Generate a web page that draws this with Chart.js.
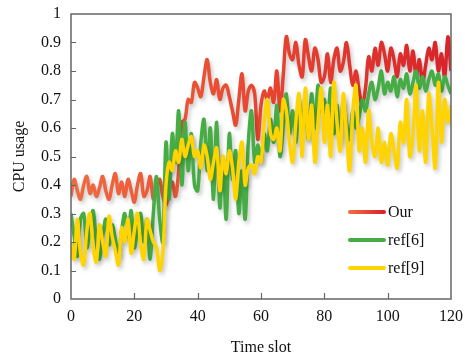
<!DOCTYPE html>
<html>
<head>
<meta charset="utf-8">
<script src="https://cdn.jsdelivr.net/npm/chart.js@4"></script>
<style>
html,body{margin:0;padding:0;background:#fff;}
#wrap{width:465px;height:361px;position:relative;}
</style>
</head>
<body>
<div id="wrap"><canvas id="c" width="465" height="361"></canvas></div>
<script>
const seriesNames = ["Our", "ref[6]", "ref[9]"];
const xTicks = [0, 20, 40, 60, 80, 100, 120];
const yTicks = [0, 0.1, 0.2, 0.3, 0.4, 0.5, 0.6, 0.7, 0.8, 0.9, 1];

const ourValues = [
0.36,0.42,0.38,0.35,0.40,0.43,0.37,0.40,0.36,0.39,
0.43,0.38,0.35,0.40,0.44,0.37,0.41,0.36,0.42,0.38,
0.34,0.40,0.44,0.36,0.38,0.43,0.35,0.39,0.42,0.36,
0.33,0.38,0.41,0.36,0.45,0.62,0.63,0.70,0.69,0.76,
0.74,0.71,0.78,0.84,0.76,0.72,0.77,0.70,0.74,0.75,
0.71,0.66,0.61,0.70,0.79,0.66,0.73,0.75,0.72,0.56,
0.68,0.73,0.70,0.74,0.69,0.80,0.66,0.78,0.92,0.86,
0.84,0.90,0.82,0.78,0.91,0.85,0.80,0.88,0.84,0.76,
0.78,0.86,0.76,0.84,0.88,0.80,0.83,0.90,0.82,0.75,
0.80,0.73,0.68,0.74,0.85,0.80,0.88,0.82,0.90,0.86,
0.80,0.88,0.84,0.78,0.86,0.82,0.89,0.80,0.87,0.78,
0.84,0.76,0.82,0.88,0.84,0.90,0.80,0.86,0.78,0.92,0.80];

const ref6Values = [
0.30,0.22,0.15,0.28,0.30,0.18,0.25,0.31,0.20,0.14,
0.22,0.28,0.19,0.26,0.21,0.15,0.24,0.30,0.22,0.31,
0.18,0.25,0.30,0.20,0.28,0.14,0.30,0.43,0.28,0.20,
0.55,0.35,0.58,0.48,0.66,0.40,0.62,0.45,0.58,0.40,
0.38,0.55,0.63,0.45,0.60,0.35,0.62,0.32,0.50,0.28,
0.58,0.42,0.52,0.30,0.45,0.28,0.55,0.66,0.48,0.54,
0.48,0.58,0.52,0.63,0.55,0.68,0.50,0.60,0.72,0.58,
0.66,0.55,0.70,0.62,0.68,0.56,0.72,0.60,0.75,0.66,
0.70,0.62,0.74,0.58,0.68,0.55,0.70,0.62,0.56,0.66,
0.60,0.64,0.70,0.66,0.72,0.76,0.70,0.74,0.80,0.72,
0.76,0.73,0.78,0.71,0.77,0.74,0.79,0.72,0.76,0.80,
0.74,0.78,0.73,0.77,0.80,0.75,0.79,0.73,0.78,0.75,0.72];

const ref9Values = [
0.20,0.14,0.28,0.16,0.12,0.24,0.30,0.18,0.13,0.26,
0.20,0.15,0.29,0.22,0.17,0.12,0.25,0.20,0.28,0.16,
0.24,0.30,0.19,0.14,0.28,0.24,0.20,0.18,0.10,0.16,
0.40,0.48,0.45,0.52,0.48,0.56,0.50,0.54,0.57,0.50,
0.52,0.46,0.54,0.50,0.42,0.48,0.53,0.38,0.50,0.44,
0.52,0.46,0.35,0.48,0.55,0.40,0.46,0.47,0.44,0.50,
0.48,0.62,0.70,0.58,0.56,0.60,0.52,0.70,0.66,0.55,
0.48,0.62,0.72,0.50,0.74,0.56,0.68,0.48,0.62,0.74,
0.55,0.68,0.50,0.76,0.62,0.52,0.72,0.58,0.45,0.66,
0.75,0.52,0.60,0.48,0.66,0.55,0.50,0.60,0.48,0.55,
0.47,0.58,0.52,0.46,0.62,0.55,0.70,0.50,0.58,0.75,
0.52,0.66,0.48,0.72,0.60,0.46,0.76,0.55,0.70,0.62,0.68];

const toPoints = arr => arr.map((v, i) => ({x: i, y: v}));
const FONT = "'Liberation Serif', 'Times New Roman', serif";

function redGradient(ctx, left, right) {
  const g = ctx.createLinearGradient(left, 0, right, 0);
  g.addColorStop(0, '#f06b40');
  g.addColorStop(0.5, '#e8452f');
  g.addColorStop(1, '#d8232a');
  return g;
}

const shadowPlugin = {
  id: 'shadow',
  beforeDatasetDraw(chart) {
    const c = chart.ctx;
    c.save();
    c.shadowColor = 'rgba(0,0,0,0.22)';
    c.shadowBlur = 4;
    c.shadowOffsetX = 2;
    c.shadowOffsetY = 3;
  },
  afterDatasetDraw(chart) { chart.ctx.restore(); }
};

const framePlugin = {
  id: 'frame',
  afterDraw(chart) {
    const c = chart.ctx, a = chart.chartArea;
    const xs = chart.scales.x, ys = chart.scales.y;
    c.save();
    c.strokeStyle = '#666';
    c.lineWidth = 1.5;
    c.strokeRect(a.left, a.top, a.right - a.left, a.bottom - a.top);
    c.lineWidth = 1.2;
    c.beginPath();
    xTicks.forEach(t => {
      if (t === 0 || t === 120) return;
      const px = Math.round(xs.getPixelForValue(t)) + 0.5;
      c.moveTo(px, a.bottom); c.lineTo(px, a.bottom - 6);
    });
    yTicks.forEach(t => {
      if (t === 0 || t === 1) return;
      const py = Math.round(ys.getPixelForValue(t)) + 0.5;
      c.moveTo(a.left, py); c.lineTo(a.left + 5, py);
    });
    c.stroke();
    // legend
    const items = chart.data.datasets;
    const x0 = 350, x1 = 384, ys0 = [212, 240, 268];
    items.forEach((d, i) => {
      const y = ys0[i];
      c.lineWidth = 4;
      c.lineCap = 'round';
      c.strokeStyle = i === 0 ? redGradient(c, x0, x1) : d.legendColor;
      c.beginPath(); c.moveTo(x0, y); c.lineTo(x1, y); c.stroke();
      c.fillStyle = '#111';
      c.font = '16px ' + FONT;
      c.textBaseline = 'middle';
      c.textAlign = 'left';
      c.fillText(d.label, 388, y + 1);
    });
    c.restore();
  }
};

new Chart(document.getElementById('c'), {
  type: 'line',
  data: {
    datasets: [
      {label: seriesNames[0], data: toPoints(ourValues),
       borderColor: (ctx) => { const a = ctx.chart.chartArea; return a ? redGradient(ctx.chart.ctx, a.left, a.right) : '#e8452f'; },
       legendColor: '#e8452f', borderWidth: 3.5, pointRadius: 0, tension: 0.35, order: 3, fill: false},
      {label: seriesNames[1], data: toPoints(ref6Values),
       borderColor: '#46ad45', legendColor: '#46ad45', borderWidth: 3.5, pointRadius: 0, tension: 0.35, order: 2, fill: false},
      {label: seriesNames[2], data: toPoints(ref9Values),
       borderColor: '#ffd400', legendColor: '#ffd400', borderWidth: 3.5, pointRadius: 0, tension: 0.35, order: 1, fill: false}
    ]
  },
  options: {
    responsive: false,
    animation: false,
    layout: {padding: {top: 14, right: 14, left: 6, bottom: 0}},
    plugins: {legend: {display: false}, tooltip: {enabled: false}},
    scales: {
      x: {
        type: 'linear', min: 0, max: 120,
        afterBuildTicks: s => { s.ticks = xTicks.map(v => ({value: v})); },
        grid: {display: false, drawTicks: false},
        border: {display: false},
        ticks: {color: '#111', font: {family: FONT, size: 16}, padding: 8, maxRotation: 0},
        title: {display: true, text: 'Time slot', color: '#111', font: {family: FONT, size: 16}, padding: {top: 6}},
        afterFit: s => { s.height = 62; s.paddingLeft = 0; s.paddingRight = 0; }
      },
      y: {
        min: 0, max: 1,
        afterBuildTicks: s => { s.ticks = yTicks.map(v => ({value: v})); },
        grid: {display: false, drawTicks: false},
        border: {display: false},
        ticks: {color: '#111', font: {family: FONT, size: 16}, padding: 10,
                callback: v => String(Math.round(v * 10) / 10)},
        title: {display: true, text: 'CPU usage', color: '#111', font: {family: FONT, size: 16}, padding: {bottom: 2}},
        afterFit: s => { s.width = 65; s.paddingTop = 0; s.paddingBottom = 0; }
      }
    }
  },
  plugins: [shadowPlugin, framePlugin]
});
</script>
</body>
</html>
